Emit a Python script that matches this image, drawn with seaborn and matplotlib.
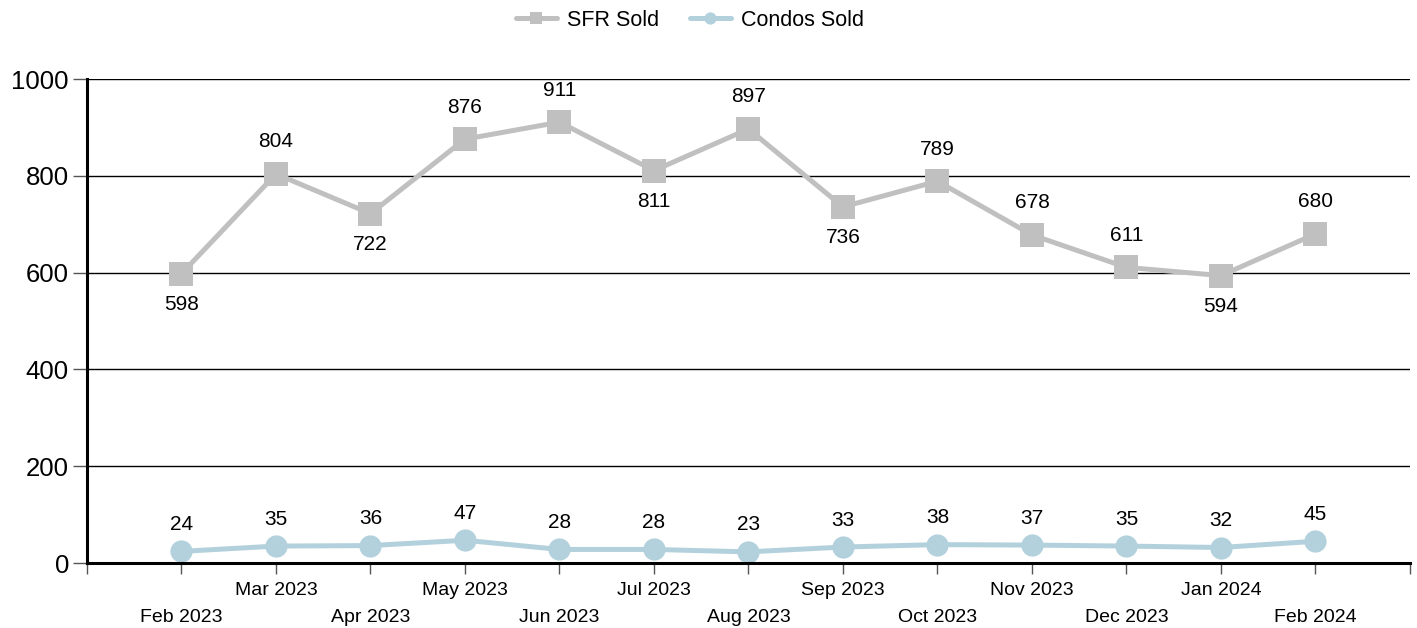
import matplotlib.pyplot as plt
import pandas as pd
import seaborn as sns

months = ["Feb 2023", "Mar 2023", "Apr 2023", "May 2023", "Jun 2023", "Jul 2023",
          "Aug 2023", "Sep 2023", "Oct 2023", "Nov 2023", "Dec 2023", "Jan 2024", "Feb 2024"]
sfr_sold = [598, 804, 722, 876, 911, 811, 897, 736, 789, 678, 611, 594, 680]
condos_sold = [24, 35, 36, 47, 28, 28, 23, 33, 38, 37, 35, 32, 45]
sfr_label_below = [True, False, True, False, False, True, False, True, False, False, False, True, False]

sns.set_style("white")
plt.rcParams["font.family"] = ["Liberation Sans", "DejaVu Sans"]
plt.rcParams["text.color"] = "black"
plt.rcParams["xtick.labelcolor"] = "black"
plt.rcParams["ytick.labelcolor"] = "black"

sfr_color = "#c0c0c0"
condo_color = "#b3d1dc"

df = pd.DataFrame({"idx": range(len(months)), "sfr": sfr_sold, "condos": condos_sold})

fig = plt.figure(figsize=(14.17, 6.28), dpi=100)
ax = fig.add_axes([0.0614, 0.1035, 0.9336, 0.7705])

sns.lineplot(data=df, x="idx", y="sfr", ax=ax, color=sfr_color, linewidth=3.6,
             marker="s", markersize=17, markeredgewidth=0, label="SFR Sold")
sns.lineplot(data=df, x="idx", y="condos", ax=ax, color=condo_color, linewidth=3.6,
             marker="o", markersize=16, markeredgewidth=0, label="Condos Sold")

for i, v in enumerate(sfr_sold):
    off = -31 if sfr_label_below[i] else 32
    ax.annotate(str(v), (i, v), xytext=(0, off), textcoords="offset pixels",
                ha="center", va="center", fontsize=15)
for i, v in enumerate(condos_sold):
    ax.annotate(str(v), (i, v), xytext=(0, 27), textcoords="offset pixels",
                ha="center", va="center", fontsize=15)

ax.set_xlim(-1, 13)
ax.set_ylim(0, 1000)
ax.set_yticks(range(0, 1001, 200))
ax.yaxis.grid(True, color="black", linewidth=1)
ax.set_axisbelow(True)
ax.tick_params(axis="y", length=10, width=1, color="#555555", labelsize=18.5, pad=3, left=True)

ax.set_xticks(range(-1, 14))
xlabels = [""]
for i, m in enumerate(months):
    xlabels.append("\n" + m if i % 2 == 0 else m)
xlabels.append("")
ax.set_xticklabels(xlabels, fontsize=14)
for t in ax.get_xticklabels():
    t.set_linespacing(1.73)
ax.tick_params(axis="x", length=8, width=1, color="#555555", pad=6, bottom=True)

for s in ["top", "right"]:
    ax.spines[s].set_visible(False)
ax.spines["left"].set_linewidth(2.2)
ax.spines["bottom"].set_linewidth(2.2)
ax.spines["left"].set_color("black")
ax.spines["bottom"].set_color("black")
ax.set_xlabel("")
ax.set_ylabel("")

handles, labels = ax.get_legend_handles_labels()
ax.get_legend().remove()
fig.legend(handles, labels, loc="upper center", bbox_to_anchor=(0.487, 1.015), ncol=2,
           frameon=False, fontsize=15.5, markerscale=0.55, handlelength=1.9,
           handletextpad=0.5, columnspacing=1.4)

fig.savefig("out.png", dpi=100)
